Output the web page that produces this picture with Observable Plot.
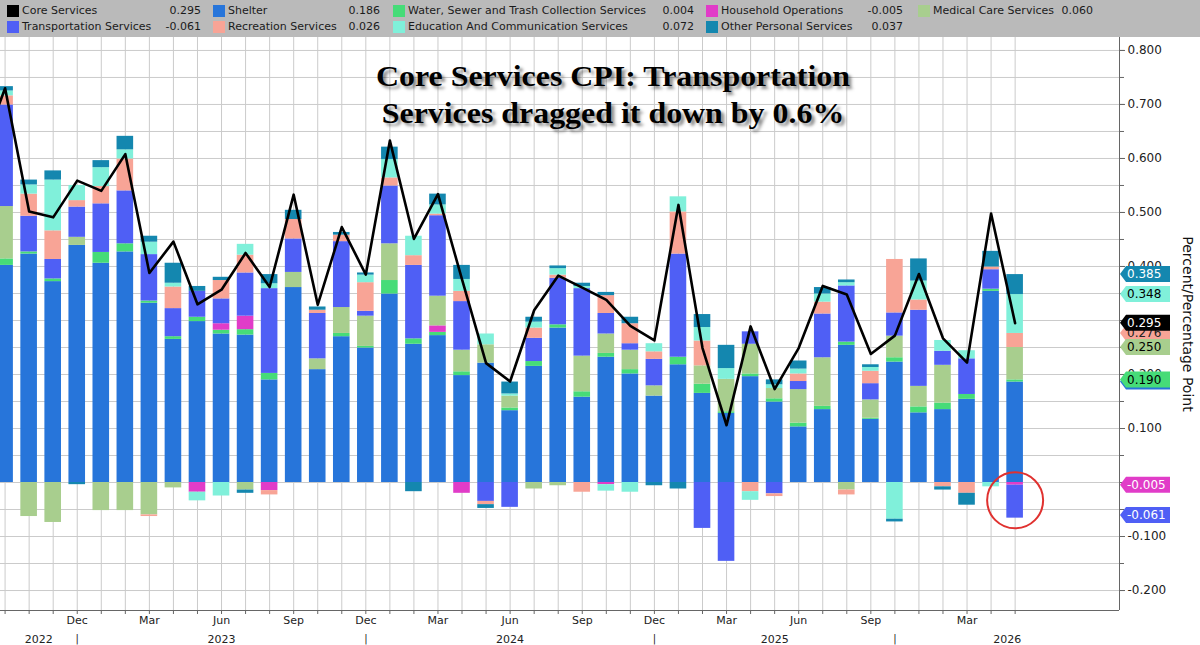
<!DOCTYPE html>
<html>
<head>
<meta charset="utf-8">
<script src="https://cdn.jsdelivr.net/npm/d3@7"></script>
<script src="https://cdn.jsdelivr.net/npm/@observablehq/plot@0.6"></script>
<style>
  html, body { margin: 0; padding: 0; background: #fff; }
  #wrap { position: relative; width: 1200px; height: 645px; overflow: hidden; font-family: "DejaVu Sans", sans-serif; }
  #legend { position: relative; width: 1200px; height: 37px; background: #bababa; }
  #legend .sw { position: absolute; width: 12px; height: 12px; }
  #legend .lab, #legend .val { position: absolute; font-size: 11px; line-height: 14px; color: #1a1a1a; white-space: nowrap; }
  #chart svg { display: block; }
  #title { position: absolute; left: 313px; width: 600px; top: 58px; text-align: center;
           font-family: "Liberation Serif", "Times New Roman", serif; font-weight: bold; font-size: 29px;
           line-height: 36.5px; color: #000; transform: scaleX(1.1); transform-origin: center top;
           text-shadow: 3px 3px 3px rgba(0,0,0,0.45); pointer-events: none; }
</style>
</head>
<body>
<div id="wrap">
  <div id="legend"></div>
  <div id="chart"></div>
  <div id="title">Core Services CPI: Transportation<br>Services dragged it down by 0.6%</div>
</div>
<script>
// ---------------- DATA ----------------
const months = ["2022-09","2022-10","2022-11","2022-12","2023-01","2023-02","2023-03","2023-04","2023-05","2023-06",
  "2023-07","2023-08","2023-09","2023-10","2023-11","2023-12","2024-01","2024-02","2024-03","2024-04",
  "2024-05","2024-06","2024-07","2024-08","2024-09","2024-10","2024-11","2024-12","2025-01","2025-02",
  "2025-03","2025-04","2025-05","2025-06","2025-07","2025-08","2025-09","2025-12","2026-01","2026-02",
  "2026-03","2026-04","2026-05"];

const shelter = [0.402,0.423,0.372,0.439,0.406,0.427,0.332,0.265,0.298,0.275,
  0.273,0.190,0.361,0.209,0.270,0.249,0.349,0.256,0.272,0.198,
  0.221,0.133,0.215,0.286,0.158,0.232,0.201,0.160,0.218,0.165,
  0.128,0.196,0.149,0.103,0.135,0.254,0.117,0.223,0.129,0.135,
  0.154,0.354,0.186];
const water = [0.012,0.004,0.005,0,0.020,0.015,0.004,0.005,0.008,0.007,
  0.010,0.012,0,0,0.006,0.003,0.025,0.010,0.006,0.007,
  0,0.005,0.009,0.006,0.010,0.007,0.008,0,0.014,0.017,
  0.003,0.005,0.006,0.007,0.006,0.006,0.002,0.008,0.011,0.012,
  0.009,0.004,0.004];
const household = [0,0,0,0,0,0,0,0,-0.018,0.012,
  0.025,-0.015,0,0,0,0,0,0,0.012,-0.020,
  0,0,0,0,0,-0.004,0,0,0,0,
  0,0,0,0,0,0,0,0,0,0,
  0,0,-0.005];
const medical = [0.097,-0.063,-0.074,0.015,-0.052,-0.052,-0.060,-0.010,0,0,
  -0.014,0,0.028,0.020,0.048,0.056,0.068,0,0.055,0.040,
  0.034,0.022,-0.012,-0.006,0.066,0.036,0.036,0.019,0,0.034,
  0.060,0.055,0.019,0.062,0.090,-0.014,0.034,0.040,0.038,0.070,
  0,0,0.060];
const transportation = [0.188,0.066,0.036,0.056,0.090,0.098,0.086,0.052,0.048,0.046,
  0.080,0.157,0.062,0.084,0.122,0.009,0.107,0.136,0.149,0.090,
  -0.035,-0.046,0.043,0.086,0.125,0.038,0.012,0.049,0.191,-0.085,
  -0.146,0.023,-0.021,0.015,0.081,0.104,0.030,0.043,0.141,0.026,
  0.066,0.036,-0.061];
const recreation = [0.017,0.041,0.053,0.012,0.032,0.059,-0.003,0.040,0,0.034,
  0.033,-0.008,0.036,0.006,0.012,0.053,0.015,0.018,0.003,0.019,
  -0.006,0,0.019,0.006,-0.018,0.033,0.037,0.014,0.078,0.046,
  0,-0.017,-0.005,0.014,0.022,-0.009,0.023,0.099,0.019,-0.008,
  -0.020,0.005,0.026];
const education = [0.009,0.017,0.094,0.028,0.035,0.017,0.023,0.007,-0.016,-0.025,
  0.020,0.009,0,0,0,0.014,0.034,0.036,0.017,0.022,
  0.020,0.004,0.011,0.012,0.004,-0.012,-0.018,0.015,0.028,0.025,
  0.020,-0.016,0.007,0.009,0.015,0.006,0.007,-0.068,0.035,0.020,
  0.015,-0.008,0.072];
const otherPersonal = [0.008,0.009,0.017,-0.004,0.013,0.025,0.011,0.037,0.009,0.006,
  -0.006,0.017,0.017,0.006,0.005,0.004,0.023,-0.017,0.020,0.026,
  -0.007,0.022,0.009,0.005,0.006,0.006,0.012,-0.006,-0.012,0.024,
  0.043,0,0.009,0.015,0.012,0.005,0.005,-0.005,0.041,-0.006,
  -0.022,0.029,0.037];
const coreServices = [0.730,0.502,0.491,0.559,0.540,0.608,0.388,0.446,0.330,0.357,
  0.425,0.362,0.533,0.329,0.473,0.385,0.633,0.451,0.534,0.376,
  0.221,0.187,0.319,0.383,0.361,0.338,0.290,0.263,0.514,0.249,
  0.106,0.289,0.173,0.249,0.364,0.348,0.238,0.272,0.386,0.267,
  0.222,0.498,0.295];
const corePriorMonth = "2022-08";   // just off the left edge
const corePriorValue = 0.61;

const monthLabelMonths = ["2022-12","2023-03","2023-06","2023-09","2023-12","2024-03","2024-06","2024-09",
  "2024-12","2025-03","2025-06","2025-09","2026-03"];
const monthNames = ["Jan","Feb","Mar","Apr","May","Jun","Jul","Aug","Sep","Oct","Nov","Dec"];
const yearSeparatorMonths = ["2022-12","2023-12","2024-12","2025-12"];
const yearLabels = ["2022","2023","2024","2025","2026"];

const seriesNames = ["Shelter","Water, Sewer and Trash Collection Services","Household Operations","Medical Care Services",
  "Transportation Services","Recreation Services","Education And Communication Services","Other Personal Services"];
const seriesValues = [shelter, water, household, medical, transportation, recreation, education, otherPersonal];
const seriesColors = ["#2775da","#46dc78","#e13cc8","#a8ce8e","#4f5ff5","#f8a496","#80f0da","#1487af"];
const coreName = "Core Services";
const coreColor = "#000000";
const axisTitle = "Percent/Percentage Point";

// ---------------- derived tables ----------------
const n = months.length;
const rows = [];
seriesNames.forEach((s, k) => seriesValues[k].forEach((v, i) => rows.push({i, month: months[i], series: s, value: v})));
const coreRows = [{i: -1, month: corePriorMonth, value: corePriorValue}, ...coreServices.map((v, i) => ({i, month: months[i], value: v}))];

const xDomain = [-0.191, 46.34];
const yDomain = [-0.237, 0.824];
const idxOf = m => months.indexOf(m);
const sepIdx = yearSeparatorMonths.map(idxOf);
const bounds = [xDomain[0], ...sepIdx, xDomain[1]];
const yearRows = yearLabels.map((y, k) => ({x: (bounds[k] + bounds[k + 1]) / 2, text: y}));
const monthRows = monthLabelMonths.map(m => ({x: idxOf(m), text: monthNames[+m.slice(5) - 1]}));
const last = n - 1;
const lastNeg = seriesValues.reduce((s, a) => s + Math.min(0, a[last]), 0);

// ---------------- legend (HTML, above the SVG) ----------------
const legendItems = [
  {name: coreName, color: coreColor, value: coreServices[last]},
  ...seriesNames.map((s, k) => ({name: s, color: seriesColors[k], value: seriesValues[k][last]}))
];
// layout: row 1 = Core, Shelter, Water, Household, Medical ; row 2 = Transportation, Recreation, Education, Other
const legendSlots = [[0,0],[1,0],[2,0],[3,0],[4,0],[0,1],[1,1],[2,1],[3,1]];
const slotOrder = [coreName, "Shelter","Water, Sewer and Trash Collection Services","Household Operations","Medical Care Services",
  "Transportation Services","Recreation Services","Education And Communication Services","Other Personal Services"];
const colSw = [7, 213, 393, 706, 918];
const colVal = [201, 380, 694, 903, 1093];
const leg = document.getElementById("legend");
slotOrder.forEach((name, k) => {
  const it = legendItems.find(d => d.name === name);
  const [c, r] = legendSlots[k];
  const top = r === 0 ? 5 : 21;
  const sw = document.createElement("div"); sw.className = "sw";
  sw.style.left = colSw[c] + "px"; sw.style.top = top + "px"; sw.style.background = it.color;
  const lab = document.createElement("div"); lab.className = "lab";
  lab.style.left = (colSw[c] + 15) + "px"; lab.style.top = (top - 1) + "px"; lab.textContent = it.name;
  const val = document.createElement("div"); val.className = "val";
  val.style.right = (1200 - colVal[c]) + "px"; val.style.top = (top - 1) + "px"; val.textContent = it.value.toFixed(3);
  leg.append(sw, lab, val);
});

// ---------------- chart ----------------
const fmt = d => (Math.abs(d) < 1e-9 ? 0 : d).toFixed(3);
const chart = Plot.plot({
  width: 1200, height: 608,
  marginTop: 0, marginBottom: 35, marginLeft: 0, marginRight: 81,
  x: {type: "linear", domain: xDomain},
  y: {domain: yDomain},
  color: {domain: seriesNames, range: seriesColors},
  style: {fontFamily: "DejaVu Sans, sans-serif", fontSize: "12px", color: "#222", background: "#fff"},
  marks: [
    Plot.gridY(d3.ticks(-0.2, 0.8, 20), {stroke: "#cbcbcb", strokeOpacity: 1}),
    Plot.gridX(d3.range(n), {stroke: "#cbcbcb", strokeOpacity: 1}),
    Plot.rectY(rows, Plot.stackY({
      x: "i", x1: d => d.i - 0.345, x2: d => d.i + 0.345,
      y: "value", fill: "series", order: seriesNames, clip: true
    })),
    Plot.line(coreRows, {x: "i", y: "value", stroke: coreColor, strokeWidth: 2.6, clip: true}),
    Plot.ruleY([yDomain[0]], {stroke: "#666"}),
    Plot.ruleX([xDomain[1]], {stroke: "#666"}),
    Plot.axisY(d3.ticks(-0.2, 0.8, 20), {anchor: "right", tickSize: 4, tickFormat: () => "", label: null, stroke: "#666"}),
    Plot.axisY(d3.ticks(-0.2, 0.8, 10), {anchor: "right", tickSize: 5, tickPadding: 3, tickFormat: fmt, label: null,
      fontSize: 12, fill: "#222", stroke: "#666"}),
    Plot.axisX(d3.range(n), {anchor: "bottom", tickSize: 4, tickFormat: () => "", label: null, stroke: "#666"}),
    Plot.text(monthRows, {x: "x", text: "text", frameAnchor: "bottom", dy: 13, fontSize: 11, fill: "#222"}),
    Plot.text(sepIdx, {x: d => d, text: () => "|", frameAnchor: "bottom", dy: 31, fontSize: 10, fill: "#222"}),
    Plot.text(yearRows, {x: "x", text: "text", frameAnchor: "bottom", dy: 32, fontSize: 11, fill: "#222"}),
    Plot.text([axisTitle], {frameAnchor: "right", dx: 68, rotate: 90, textAnchor: "middle", fontSize: 14, fill: "#111"}),
    Plot.dot([last], {x: d => d, y: () => lastNeg / 2, r: 28, stroke: "#e0312f", strokeWidth: 2, fill: "none"})
  ]
});
document.getElementById("chart").append(chart);

// ---------------- value tags on the right axis ----------------
const ys = chart.scale("y"), xs = chart.scale("x");
const x0 = xs.apply(xDomain[1]);
const k = name => seriesNames.indexOf(name);
let cum = 0;
const posTop = {};
seriesNames.forEach((s, j) => { const v = seriesValues[j][last]; if (v > 0) { cum += v; posTop[s] = cum; } });
const tagList = [
  {v: posTop["Shelter"], c: seriesColors[k("Shelter")], t: "#fff"},
  {v: posTop["Recreation Services"], c: seriesColors[k("Recreation Services")], t: "#222"},
  {v: posTop["Water, Sewer and Trash Collection Services"], c: seriesColors[k("Water, Sewer and Trash Collection Services")], t: "#000"},
  {v: posTop["Medical Care Services"], c: seriesColors[k("Medical Care Services")], t: "#000"},
  {v: coreServices[last], c: coreColor, t: "#fff"},
  {v: posTop["Education And Communication Services"], c: seriesColors[k("Education And Communication Services")], t: "#000"},
  {v: posTop["Other Personal Services"], c: seriesColors[k("Other Personal Services")], t: "#fff"},
  {v: household[last], c: seriesColors[k("Household Operations")], t: "#fff"},
  {v: transportation[last], c: seriesColors[k("Transportation Services")], t: "#fff"}
];
const g = d3.select(chart).append("g").attr("text-anchor", "start");
tagList.forEach(d => {
  const yc = ys.apply(d.v);
  g.append("path")
    .attr("d", `M${x0 + 1},${yc} L${x0 + 7},${yc - 8} L${x0 + 51},${yc - 8} L${x0 + 51},${yc + 8} L${x0 + 7},${yc + 8} Z`)
    .attr("fill", d.c);
  g.append("text").attr("x", x0 + 8).attr("y", yc).attr("dy", "0.36em").attr("text-anchor", "start")
    .attr("fill", d.t).attr("font-size", 12).attr("font-family", "DejaVu Sans, sans-serif")
    .text(d.v.toFixed(3));
});
</script>
</body>
</html>
